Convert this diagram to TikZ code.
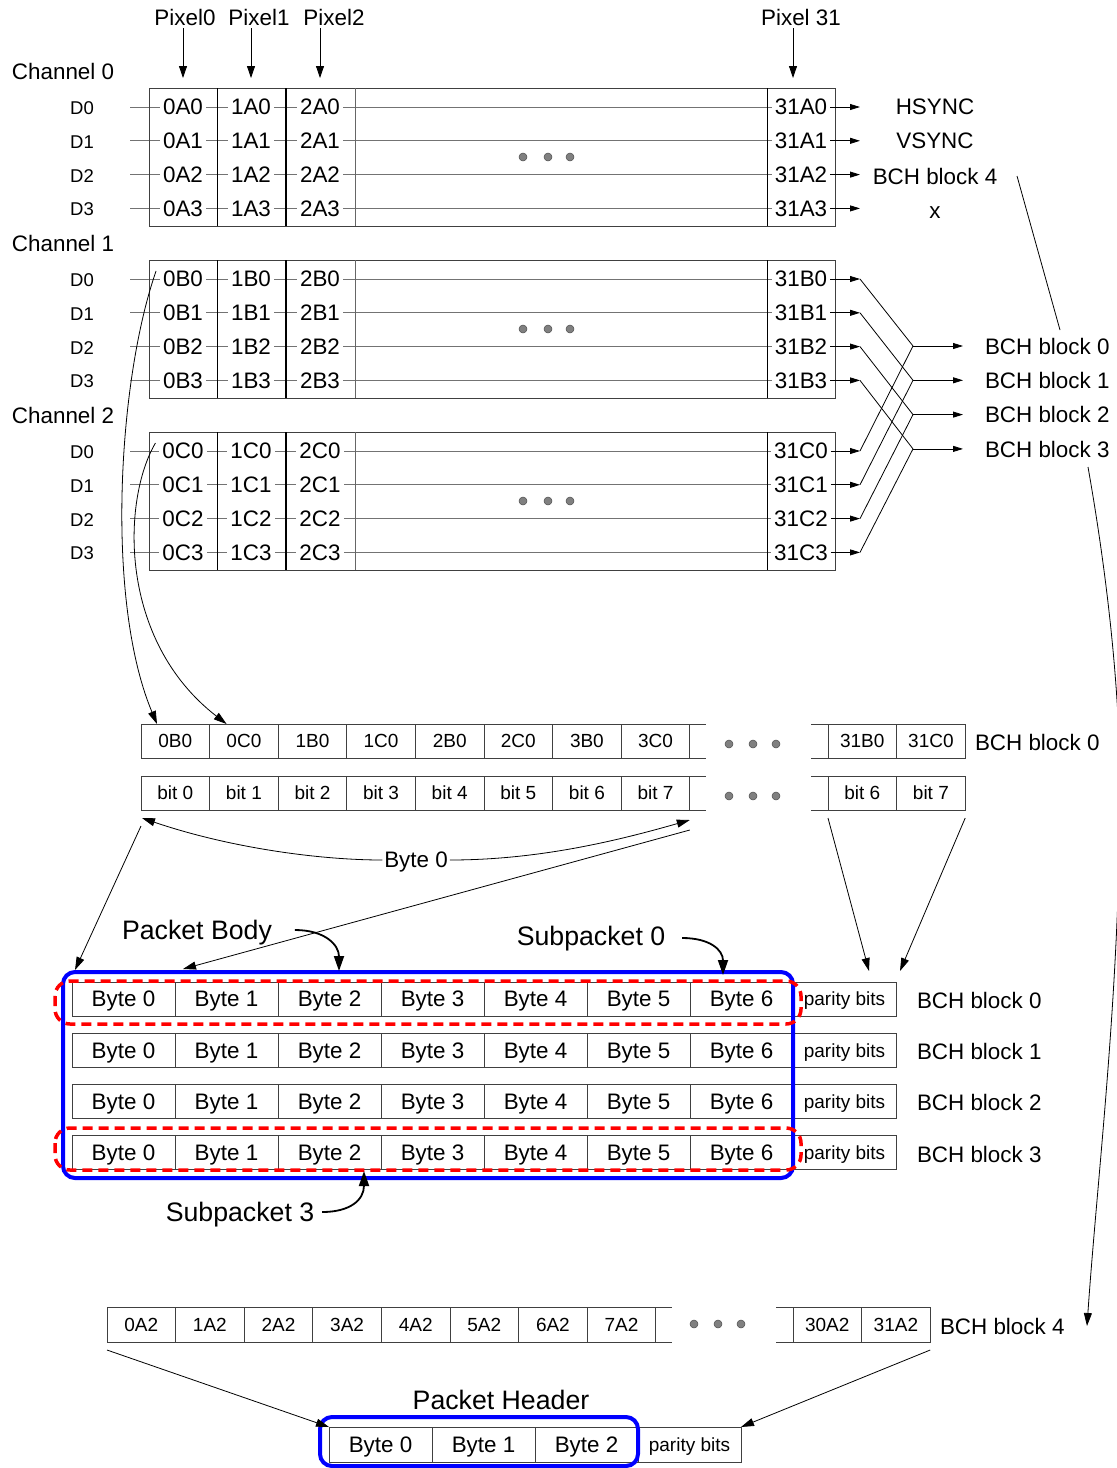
\documentclass[tikz,border=0pt]{standalone}
\usepackage{fontspec}
\setmainfont{Liberation Sans}
\usetikzlibrary{arrows.meta,calc}
\begin{document}
\begin{tikzpicture}[x=1pt,y=-1pt,
  every node/.style={inner sep=0pt,outer sep=0pt,text depth=0pt},
  fbig/.style={font=\fontsize{22.4}{25}\selectfont},
  fmid/.style={font=\fontsize{19}{22}\selectfont},
  fsml/.style={font=\fontsize{18.5}{20}\selectfont},
  ftitle/.style={font=\fontsize{26.7}{30}\selectfont},
  val/.style={fbig,fill=white,inner xsep=3pt,inner ysep=2pt},
  rowline/.style={draw=black!55,line width=0.8pt},
  tabline/.style={draw=black!75,line width=1pt},
  cellline/.style={draw=black!75,line width=1pt},
  cellA/.style={draw=black!75,line width=1pt,minimum width=68.6pt,minimum height=34pt,fmid},
  cellB/.style={draw=black!75,line width=1pt,minimum width=103pt,minimum height=34pt,fbig},
  cellP/.style={cellB,fmid},
  dotc/.style={circle,fill=black!50,draw=black!70,line width=0.5pt,minimum size=8pt},
  conn/.style={draw=black,line width=0.8pt},
  tip/.style={-{Triangle[length=10pt,width=6pt]}},
  ptip/.style={-{Triangle[length=12pt,width=8pt]}},
  ltip/.style={-{Triangle[length=13pt,width=8pt]}},
  ctip/.style={draw=black,line width=1.8pt,-{Triangle[length=15pt,width=10pt]}},
]
\useasboundingbox (0,0) rectangle (1117,1468);

% ---------------- Pixel labels
\node[fbig] (px0) at (185,17) {Pixel0};
\node[fbig] (px1) at (259,17) {Pixel1};
\node[fbig] (px2) at (334,17) {Pixel2};
\node[fbig] (px31) at (801,17) {Pixel 31};
\coordinate (pt0) at (183,78);
\coordinate (pt1) at (251,78);
\coordinate (pt2) at (320,78);
\coordinate (pt31) at (793,78);
\foreach \p in {0,1,2,31} \draw[conn,ptip] ([yshift=-3pt]px\p.south -| pt\p) -- (pt\p);

% ---------------- Channel tables
\foreach \ch/\L/\r in {0/A/107,1/B/279,2/C/451} {
  \node[fbig,anchor=west] (ch\ch) at (12,\r-36) {Channel \ch};
  \foreach \k in {0,1,2,3} {
    \pgfmathsetmacro\y{\r+33.8*\k}
    \node[fsml] (d\ch\k) at (82,\y+1) {D\k};
    \draw[rowline] (130,\y) -- (836,\y);
  }
  \draw[tabline] (149,\r-19) rectangle (835,\r+119);
  \draw[draw=black,line width=1pt] (217,\r-19) -- (217,\r+119);
  \draw[draw=black,line width=1.6pt] (286,\r-19) -- (286,\r+119);
  \draw[draw=black!60,line width=1pt] (355,\r-19) -- (355,\r+119);
  \draw[draw=black,line width=1pt] (767,\r-19) -- (767,\r+119);
  \foreach \k in {0,1,2,3} {
    \pgfmathsetmacro\y{\r+33.8*\k}
    \node[val] (v\ch-0-\k) at (183,\y) {0\L\k};
    \node[val] (v\ch-1-\k) at (251,\y) {1\L\k};
    \node[val] (v\ch-2-\k) at (320,\y) {2\L\k};
    \node[val] (v\ch-31-\k) at (801,\y) {31\L\k};
    \coordinate (e\ch\k) at (860,\y);
    \draw[conn,tip] (v\ch-31-\k.east) -- (e\ch\k);
  }
  \node[dotc] (dA\ch) at (523,\r+50) {};
  \node[dotc] (dB\ch) at (548,\r+50) {};
  \node[dotc] (dC\ch) at (570,\r+50) {};
}

% right labels of channel 0
\node[fbig] (hs) at (935,107) {HSYNC};
\node[fbig] (vs) at (935,141) {VSYNC};
\node[fbig] (b4t) at (935,176) {BCH block 4};
\node[fbig] (xx) at (935,213) {x};

% BCH block 0..3 (crossing)
\foreach \k in {0,1,2,3} {
  \pgfmathsetmacro\y{346+34.3*\k}
  \node[fbig,anchor=west] (bch\k) at (985,\y) {BCH block \k};
  \coordinate (j\k) at (913,\y);
  \coordinate (t\k) at (963,\y);
  \draw[conn,tip] (j\k) -- (t\k);
  \draw[conn] (e1\k) -- (j\k);
  \draw[conn] (e2\k) -- (j\k);
}

% long connector from BCH block 4 (top) to BCH block 4 (bottom)
\coordinate (L1) at (1017,176);
\coordinate (L2) at (1060,330);
\coordinate (L3) at (1088,467);
\coordinate (L4) at (1087,1326);
\draw[conn] (L1) -- (L2);
\draw[conn,ltip] (L3) .. controls (1108,580) and (1121,700) .. (1120,800)
   .. controls (1119,1000) and (1097,1180) .. (L4);

% ---------------- BCH block 0 serial row
\foreach \t [count=\i from 0] in {0B0,0C0,1B0,1C0,2B0,2C0,3B0,3C0}
  \node[cellA] (r0c\i) at (175.3+68.6*\i,741) {\t};
\node[cellA] (r0c30) at (862.3,741) {31B0};
\node[cellA] (r0c31) at (930.9,741) {31C0};
\draw[cellline] (r0c7.north east) -- ++(16,0);
\draw[cellline] (r0c7.south east) -- ++(16,0);
\draw[cellline] (r0c30.north west) -- ++(-17,0);
\draw[cellline] (r0c30.south west) -- ++(-17,0);
\node[dotc] (q1) at (729,744) {};
\node[dotc] (q2) at (753,744) {};
\node[dotc] (q3) at (776,744) {};
\node[fbig,anchor=west] (bch0a) at (975,742) {BCH block 0};

\foreach \i in {0,...,7}
  \node[cellA] (r1c\i) at (175.3+68.6*\i,793) {bit \i};
\node[cellA] (r1c30) at (862.3,793) {bit 6};
\node[cellA] (r1c31) at (930.9,793) {bit 7};
\draw[cellline] (r1c7.north east) -- ++(16,0);
\draw[cellline] (r1c7.south east) -- ++(16,0);
\draw[cellline] (r1c30.north west) -- ++(-17,0);
\draw[cellline] (r1c30.south west) -- ++(-17,0);
\node[dotc] (q4) at (729,796) {};
\node[dotc] (q5) at (753,796) {};
\node[dotc] (q6) at (776,796) {};

% curves from channel tables
\draw[conn,ltip] ($(v1-0-0.west)+(-4,-8)$) .. controls (118,380) and (105,600) .. ($(r0c0.north west)+(16,0)$);
\draw[conn,ltip] ($(v2-0-0.west)+(-4,-8)$) .. controls (122,500) and (118,640) .. ($(r0c1.north west)+(17,0)$);

% Byte 0 label and arrows
\node[fbig,inner xsep=2pt] (byte0) at (416,860) {Byte 0};
\draw[conn,ltip] (byte0.west) .. controls (320,860) and (230,848) .. ($(r1c0.south west)+(1,8)$);
\draw[conn,ltip] (byte0.east) .. controls (540,860) and (620,840) .. ($(r1c7.south east)+(0,10)$);

% ---------------- Packet body
\foreach \r in {0,1,2,3} {
  \pgfmathsetmacro\yy{999+51.3*\r}
  \foreach \j in {0,...,6}
    \node[cellB] (pb\r-\j) at (123.5+103*\j,\yy) {Byte \j};
  \node[cellP] (pp\r) at (844.5,\yy) {parity bits};
  \node[fbig,anchor=west] (bl\r) at (917,\yy+1) {BCH block \r};
}
\draw[blue,line width=4pt,rounded corners=12pt] (63,972) rectangle (793,1178);
\draw[red,line width=3.5pt,dash pattern=on 10pt off 6pt,rounded corners=15pt] (55,981) rectangle (801,1024);
\draw[red,line width=3.5pt,dash pattern=on 10pt off 6pt,rounded corners=15pt] (55,1128) rectangle (801,1170);

% arrows into packet body
\coordinate (pbA) at (183,969);
\coordinate (pbB) at (75,970);
\coordinate (ppA) at (869,971);
\coordinate (ppB) at (900,971);
\draw[conn,ltip] ($(r1c7.south east)+(0,20)$) -- (pbA);
\draw[conn,ltip] ($(r1c0.south west)+(0,16)$) -- (pbB);
\draw[conn,ltip] ($(r1c30.south west)+(0,8)$) -- (ppA);
\draw[conn,ltip] ($(r1c31.south east)+(0,8)$) -- (ppB);

% titles with curved arrows
\node[ftitle] (pbody) at (197,930) {Packet Body};
\node[ftitle] (sp0) at (591,936) {Subpacket 0};
\node[ftitle] (sp3) at (240,1212) {Subpacket 3};
\coordinate (cb) at (339,971);
\coordinate (c0) at (723,975);
\coordinate (c3) at (364,1171);
\draw[ctip] ($(pbody.east)+(23,0)$) .. controls (325,930) and (339,945) .. (cb);
\draw[ctip] ($(sp0.east)+(17,2)$) .. controls (710,938) and (723,950) .. (c0);
\draw[ctip] ($(sp3.east)+(8,0)$) .. controls (350,1212) and (364,1200) .. (c3);

% ---------------- BCH block 4 row
\foreach \t [count=\i from 0] in {0A2,1A2,2A2,3A2,4A2,5A2,6A2,7A2}
  \node[cellA,minimum height=35pt] (h\i) at (141.3+68.6*\i,1324.5) {\t};
\node[cellA,minimum height=35pt] (h30) at (827.3,1324.5) {30A2};
\node[cellA,minimum height=35pt] (h31) at (895.9,1324.5) {31A2};
\draw[cellline] (h7.north east) -- ++(16,0);
\draw[cellline] (h7.south east) -- ++(16,0);
\draw[cellline] (h30.north west) -- ++(-17,0);
\draw[cellline] (h30.south west) -- ++(-17,0);
\node[dotc] (q7) at (694,1324) {};
\node[dotc] (q8) at (718,1324) {};
\node[dotc] (q9) at (741,1324) {};
\node[fbig,anchor=west] (bch4b) at (940,1326) {BCH block 4};

% ---------------- Packet header
\node[ftitle] (phdr) at (501,1400) {Packet Header};
\node[cellB,minimum height=35pt] (hb0) at (380.5,1444.5) {Byte 0};
\node[cellB,minimum height=35pt] (hb1) at (483.5,1444.5) {Byte 1};
\node[cellB,minimum height=35pt] (hb2) at (586.5,1444.5) {Byte 2};
\node[cellP,minimum height=35pt] (hpar) at (689.5,1444.5) {parity bits};
\draw[blue,line width=4pt,rounded corners=12pt] (320,1417) rectangle (638,1466);
\draw[conn,ltip] ($(h0.south west)+(0,8)$) -- (hb0.north west);
\draw[conn,ltip] ($(h31.south east)+(0,8)$) -- (hpar.north east);

\end{tikzpicture}
\end{document}
